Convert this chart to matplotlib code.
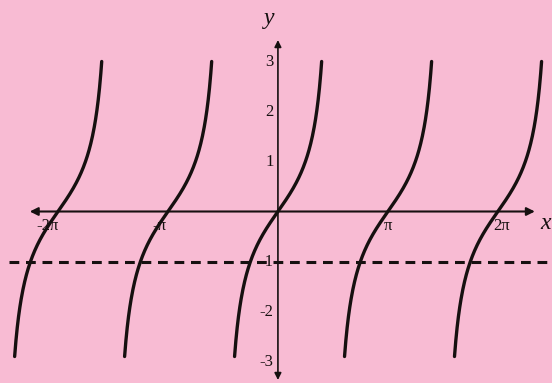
import numpy as np
import matplotlib.pyplot as plt

# branches of y = tan(x), centred on k*pi
branch_k = [-2, -1, 0, 1, 2]
y_low, y_high = -2.9, 3.0
xtick_k = [-2, -1, 1, 2]
xtick_labels = ['-2π', '-π', 'π', '2π']
ytick_vals = [3, 2, 1, -1, -2, -3]
ytick_labels = ['3', '2', '1', '-1', '-2', '-3']
dash_level = -1

bg = '#f8bbd3'
ink = '#161010'

fig = plt.figure(figsize=(5.52, 3.83), dpi=100, facecolor=bg)
ax = fig.add_axes([0, 0, 1, 1])
ax.set_facecolor(bg)
ax.set_xlim(-7.94, 7.83)
ax.set_ylim(-3.43, 4.23)
ax.axis('off')

# axes with arrows
ax.annotate('', xy=(7.34, 0), xytext=(-7.09, 0),
            arrowprops=dict(arrowstyle='<|-|>', color=ink, lw=1.5,
                            mutation_scale=12, shrinkA=0, shrinkB=0))
ax.annotate('', xy=(0, 3.43), xytext=(0, -3.37),
            arrowprops=dict(arrowstyle='<|-|>', color=ink, lw=1.2,
                            mutation_scale=10, shrinkA=0, shrinkB=0))

# dashed line y = -1
ax.plot([-7.69, 7.83], [dash_level, dash_level], color=ink, lw=2.2,
        linestyle=(0, (3.2, 2.2)))

# tan branches
for k in branch_k:
    t = np.linspace(np.arctan(y_low), np.arctan(y_high), 200)
    ax.plot(t + k * np.pi, np.tan(t), color=ink, lw=2.4,
            solid_capstyle='round')

serif = 'Liberation Serif'
x_shift = {-2: -0.3, -1: -0.25, 1: 0.0, 2: 0.1}
for k, lab in zip(xtick_k, xtick_labels):
    ax.text(k * np.pi + x_shift[k], -0.12, lab, ha='center',
            va='top', fontsize=12, family=serif, color=ink)
for v, lab in zip(ytick_vals, ytick_labels):
    ax.text(-0.12, v, lab, ha='right', va='center', fontsize=12,
            family=serif, color=ink)

ax.text(-0.25, 3.86, 'y', ha='center', va='center', fontsize=17,
        family=serif, style='italic', color=ink)
ax.text(7.65, -0.24, 'x', ha='center', va='center', fontsize=17,
        family=serif, style='italic', color=ink)

fig.savefig('out.png', dpi=100, facecolor=bg)
